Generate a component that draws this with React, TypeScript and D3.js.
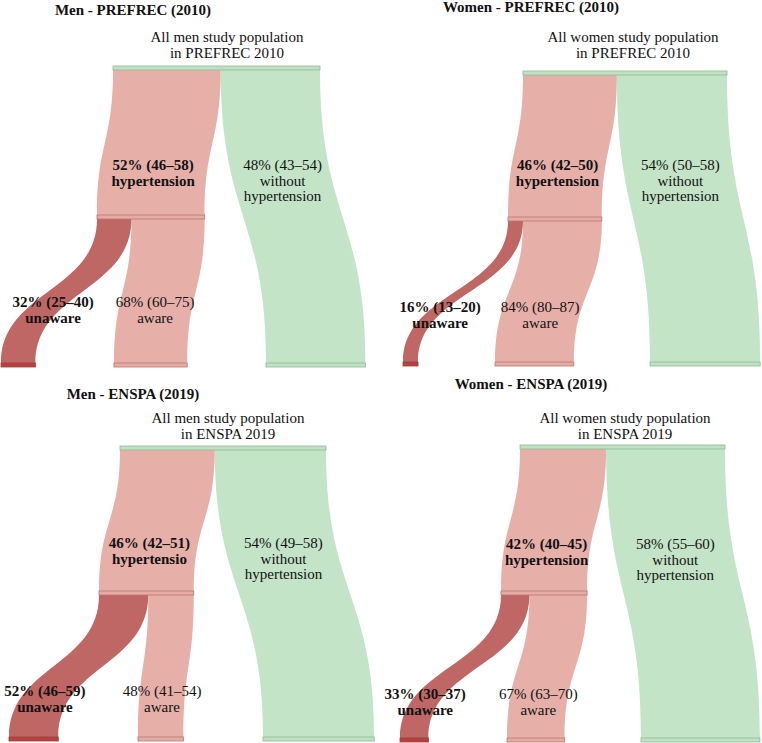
import React from 'react'
import * as d3 from 'd3'

// data (percent and 95% CI)
const panelTitles = ['Men - PREFREC (2010)', 'Women - PREFREC (2010)', 'Men - ENSPA (2019)', 'Women - ENSPA (2019)']
const rootLabels = [
  ['All men study population', 'in PREFREC 2010'],
  ['All women study population', 'in PREFREC 2010'],
  ['All men study population', 'in ENSPA 2019'],
  ['All women study population', 'in ENSPA 2019']
]
const hypertensionPct = [52, 46, 46, 42]
const hypertensionCI = ['46–58', '42–50', '42–51', '40–45']
const hypertensionNames = ['hypertension', 'hypertension', 'hypertensio', 'hypertension']
const withoutPct = [48, 54, 54, 58]
const withoutCI = ['43–54', '50–58', '49–58', '55–60']
const unawarePct = [32, 16, 52, 33]
const unawareCI = ['25–40', '13–20', '46–59', '30–37']
const awarePct = [68, 84, 48, 67]
const awareCI = ['60–75', '80–87', '41–54', '63–70']

// hand placed node layout per panel (like a dragged sankey)
const layouts = [
  { ox: 0, oy: 0, titleX: 133, titleY: 15, subX: 227, subY: 42, topY: 66, midY: 215, botY: 363, totalW: 207, topX: 113, midX: 97, unawareX: 1, awareX: 114, withoutX: 266, hypLabelY: 170, leafLabelY: 307, unawareDx: 10 },
  { ox: 381, oy: 0, titleX: 150, titleY: 12, subX: 252, subY: 42, topY: 71, midY: 217, botY: 362, totalW: 204, topX: 142, midX: 127, unawareX: 22, awareX: 114, withoutX: 269, hypLabelY: 170, leafLabelY: 312, unawareDx: 8 },
  { ox: 0, oy: 371, titleX: 133, titleY: 28, subX: 228, subY: 52, topY: 75, midY: 220, botY: 366, totalW: 206, topX: 120, midX: 99, unawareX: 9, awareX: 138, withoutX: 263, hypLabelY: 177, leafLabelY: 325, unawareDx: 0 },
  { ox: 381, oy: 371, titleX: 150, titleY: 18, subX: 244, subY: 52, topY: 74, midY: 220, botY: 367, totalW: 205, topX: 139, midX: 120, unawareX: 19, awareX: 126, withoutX: 260, hypLabelY: 178, leafLabelY: 328, unawareDx: 0 }
]

const NODE_H = 4
const LINE_H = 15.5
const FONT = 'Liberation Serif, Times New Roman, Times, serif'

const colors = {
  green: '#c4e4c8',
  greenNode: '#bfe1c2',
  greenStroke: '#8fb996',
  pink: '#e6b0a9',
  pinkNode: '#e8aaa3',
  pinkStroke: '#b07a74',
  red: '#be6765',
  redNode: '#b84140',
  redStroke: '#98403c'
}

type Link = { sx0: number; sx1: number; sy: number; tx0: number; tx1: number; ty: number }

const ribbon = (l: Link) => {
  const my = (l.sy + l.ty) / 2
  const p = d3.path()
  p.moveTo(l.sx0, l.sy)
  p.bezierCurveTo(l.sx0, my, l.tx0, my, l.tx0, l.ty)
  p.lineTo(l.tx1, l.ty)
  p.bezierCurveTo(l.tx1, my, l.sx1, my, l.sx1, l.sy)
  p.closePath()
  return p.toString()
}

// x of the band centre at height y
const centerAt = (l: Link, y: number) => {
  const my = (l.sy + l.ty) / 2
  const yt = t => l.sy * (1 - t) ** 3 + 3 * my * (1 - t) ** 2 * t + 3 * my * (1 - t) * t * t + l.ty * t ** 3
  let lo = 0
  let hi = 1
  for (let i = 0; i < 40; i++) {
    const m = (lo + hi) / 2
    if (yt(m) < y) lo = m
    else hi = m
  }
  const t = (lo + hi) / 2
  const s = 3 * t * t - 2 * t * t * t
  const c0 = (l.sx0 + l.sx1) / 2
  const c1 = (l.tx0 + l.tx1) / 2
  return c0 + (c1 - c0) * s
}

const Label = ({ x, y, lines, bold }) => (
  <text
    x={x}
    y={y}
    textAnchor="middle"
    style={{ fontFamily: FONT, fontSize: 15, fontWeight: bold ? 'bold' : 'normal' }}
    fill="#111"
  >
    {lines.map((ln, i) => (
      <tspan key={i} x={x} dy={i === 0 ? 0 : LINE_H}>
        {ln}
      </tspan>
    ))}
  </text>
)

const Panel = ({ i }) => {
  const L = layouts[i]
  const w = d3.scaleLinear().domain([0, 100]).range([0, L.totalW])

  const hypW = w(hypertensionPct[i])
  const withoutW = w(withoutPct[i])
  const unawareW = (hypW * unawarePct[i]) / 100
  const awareW = (hypW * awarePct[i]) / 100

  const topBottom = L.topY + NODE_H
  const midBottom = L.midY + NODE_H

  const hypLink: Link = { sx0: L.topX, sx1: L.topX + hypW, sy: topBottom, tx0: L.midX, tx1: L.midX + hypW, ty: L.midY }
  const withoutLink: Link = { sx0: L.topX + hypW, sx1: L.topX + hypW + withoutW, sy: topBottom, tx0: L.withoutX, tx1: L.withoutX + withoutW, ty: L.botY }
  const unawareLink: Link = { sx0: L.midX, sx1: L.midX + unawareW, sy: midBottom, tx0: L.unawareX, tx1: L.unawareX + unawareW, ty: L.botY }
  const awareLink: Link = { sx0: L.midX + unawareW, sx1: L.midX + unawareW + awareW, sy: midBottom, tx0: L.awareX, tx1: L.awareX + awareW, ty: L.botY }

  const nodes = [
    { x: L.topX, y: L.topY, w: hypW + withoutW, fill: colors.greenNode, stroke: colors.greenStroke },
    { x: L.midX, y: L.midY, w: hypW, fill: colors.pinkNode, stroke: colors.pinkStroke },
    { x: L.unawareX, y: L.botY, w: unawareW, fill: colors.redNode, stroke: colors.redStroke },
    { x: L.awareX, y: L.botY, w: awareW, fill: colors.pinkNode, stroke: colors.pinkStroke },
    { x: L.withoutX, y: L.botY, w: withoutW, fill: colors.greenNode, stroke: colors.greenStroke }
  ]

  const midOf = (y0: number, n: number) => y0 + ((n - 1) * LINE_H) / 2 - 5

  const hypLines = [`${hypertensionPct[i]}% (${hypertensionCI[i]})`, hypertensionNames[i]]
  const withoutLines = [`${withoutPct[i]}% (${withoutCI[i]})`, 'without', 'hypertension']
  const unawareLines = [`${unawarePct[i]}% (${unawareCI[i]})`, 'unaware']
  const awareLines = [`${awarePct[i]}% (${awareCI[i]})`, 'aware']

  return (
    <g transform={`translate(${L.ox},${L.oy})`}>
      <path d={ribbon(withoutLink)} fill={colors.green} />
      <path d={ribbon(hypLink)} fill={colors.pink} />
      <path d={ribbon(awareLink)} fill={colors.pink} />
      <path d={ribbon(unawareLink)} fill={colors.red} />
      {nodes.map((n, k) => (
        <rect key={k} x={n.x} y={n.y} width={n.w} height={NODE_H} fill={n.fill} stroke={n.stroke} strokeWidth={0.8} />
      ))}
      <text
        x={L.titleX}
        y={L.titleY}
        textAnchor="middle"
        style={{ fontFamily: FONT, fontSize: 15, fontWeight: 'bold' }}
        fill="#111"
      >
        {panelTitles[i]}
      </text>
      <Label x={L.subX} y={L.subY} lines={rootLabels[i]} bold={false} />
      <Label x={centerAt(hypLink, midOf(L.hypLabelY, 2))} y={L.hypLabelY} lines={hypLines} bold />
      <Label x={centerAt(withoutLink, midOf(L.hypLabelY, 3))} y={L.hypLabelY} lines={withoutLines} bold={false} />
      <Label x={centerAt(unawareLink, midOf(L.leafLabelY, 2)) + L.unawareDx} y={L.leafLabelY} lines={unawareLines} bold />
      <Label x={centerAt(awareLink, midOf(L.leafLabelY, 2))} y={L.leafLabelY} lines={awareLines} bold={false} />
    </g>
  )
}

export default function App() {
  return (
    <svg width={762} height={743} style={{ position: 'absolute', left: 0, top: 0, background: '#fff' }}>
      {layouts.map((_, i) => (
        <Panel key={i} i={i} />
      ))}
    </svg>
  )
}
